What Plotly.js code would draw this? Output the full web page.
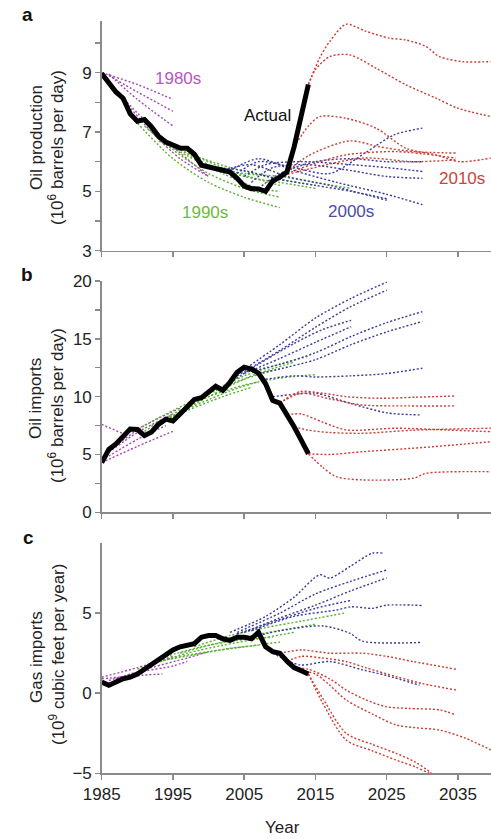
<!DOCTYPE html>
<html>
<head>
<meta charset="utf-8">
<script src="https://cdn.plot.ly/plotly-3.0.1.min.js"></script>
<style>html,body{margin:0;padding:0;background:#fff;}#chart{width:491px;height:839px;}</style>
</head>
<body>
<div id="chart"></div>
<script>
// ---------- DATA ----------
const years = [1985,1986,1987,1988,1989,1990,1991,1992,1993,1994,1995,1996,1997,1998,1999,2000,2001,2002,2003,2004,2005,2006,2007,2008,2009,2010,2011,2012,2013,2014];
const prodActual = [8.97,8.68,8.35,8.14,7.61,7.36,7.42,7.17,6.85,6.66,6.56,6.46,6.45,6.25,5.88,5.82,5.80,5.74,5.65,5.44,5.18,5.09,5.08,5.00,5.35,5.48,5.65,6.50,7.47,8.60];
const impActual = [4.29,5.44,5.91,6.59,7.20,7.16,6.63,6.94,7.62,8.05,7.89,8.50,9.16,9.76,9.91,10.42,10.90,10.55,11.24,12.10,12.55,12.39,12.04,11.11,9.67,9.44,8.45,7.39,6.24,5.06];
const gasActual = [0.7,0.5,0.7,0.9,1.0,1.2,1.5,1.8,2.1,2.4,2.7,2.9,3.0,3.1,3.5,3.6,3.6,3.4,3.3,3.5,3.5,3.4,3.8,2.9,2.6,2.5,2.0,1.6,1.4,1.2];

// Oil production projections (panel a)
const prod1980sX = [[1985,1990,1995],[1986,1990,1995],[1986,1990,1995],[1987,1991,1995,2000],[1988,1992,1996,2000]];
const prod1980sY = [[9.0,8.6,8.1],[8.95,8.1,7.2],[8.9,8.35,7.7],[8.4,7.4,6.5,5.5],[8.1,7.0,6.1,5.5]];
const prod1990sX = [[1990,1995,2000,2005,2010],[1991,1995,2000,2005,2010],[1993,1997,2002,2007,2010],[1994,1998,2003,2010],[1996,2000,2005,2010,2015],[1998,2003,2008,2015],[1999,2005,2010,2015,2020]];
const prod1990sY = [[7.3,6.1,5.3,4.8,4.45],[7.2,6.4,5.6,5.1,4.8],[6.7,6.2,5.6,5.1,5.0],[6.6,6.2,5.7,5.2],[6.4,5.9,5.5,5.3,5.1],[6.2,5.8,5.5,5.2],[5.9,5.6,5.5,5.3,5.1]];
const prod2000sX = [[2004,2007,2012,2017,2022,2026,2030],[2005,2008,2013,2020,2025,2030],[2006,2009,2014,2020,2025,2030],[2003,2007,2012,2018,2025,2030],[2002,2006,2011,2017,2025],[2001,2005,2010,2015,2020,2025],[2007,2010,2015,2020,2025,2030]];
const prod2000sY = [[5.6,6.0,5.8,5.6,6.3,6.9,7.13],[5.5,5.9,6.0,5.9,5.8,5.67],[5.3,5.8,5.9,5.7,5.5,5.44],[5.7,6.1,5.7,5.3,4.9,4.55],[5.7,5.9,5.5,5.2,4.7],[5.8,5.7,5.4,5.2,5.0,4.75],[5.1,5.6,6.0,6.1,6.0,6.0]];
const prod2010sX = [[2014,2015.6,2017,2019.3,2022,2025.4,2027.7,2030.5,2032.4,2035.7,2039.6],[2014,2015,2017,2019.8,2023.5,2027.7,2031.9,2035,2039.6],[2012,2014,2015.6,2019.3,2023.5,2027.7,2031.9,2035.2,2039.6],[2011,2014,2019.8,2024,2028.7,2034.7],[2011,2015,2019.3,2026.3,2034.7],[2010,2014,2021.6,2028.7,2034.7]];
const prod2010sY = [[8.6,9.5,10.05,10.63,10.4,10.16,10.1,9.88,9.54,9.37,9.37],[8.6,9.1,9.54,9.6,9.15,8.59,8.14,7.8,7.52],[6.5,7.2,7.52,7.46,7.13,6.45,6.23,6.0,6.12],[5.65,6.2,6.7,6.5,6.34,6.29],[5.6,5.95,6.23,6.34,6.12],[5.5,5.75,6.12,6.0,6.06]];

// Oil imports projections (panel b)
const imp1980sX = [[1985,1988],[1985,1990,1995],[1985,1990,1994],[1986,1990,1995],[1987,1991,1996]];
const imp1980sY = [[7.6,6.8],[4.3,5.7,7.0],[4.5,6.3,7.5],[5.2,6.9,8.5],[5.8,7.5,9.0]];
const imp1990sX = [[1990,1995,2000,2005,2010,2014],[1991,1995,2000,2005,2010,2015],[1993,1998,2003,2007],[1995,2000,2005,2010],[1997,2002,2007,2012],[1992,1997,2002,2006]];
const imp1990sY = [[7.2,8.8,10.3,11.8,12.8,13.5],[7.0,8.5,10.0,11.0,11.6,11.9],[7.8,9.2,10.5,11.3],[8.3,10.0,11.5,12.4],[9.3,10.8,12.0,13.0],[7.5,8.8,10.0,10.8]];
const imp2000sX = [[2003,2010,2015,2020,2025],[2004,2010,2015,2020,2025],[2002,2007,2012,2016,2020],[2005,2010,2015,2020],[2006,2010,2015,2020,2025,2030],[2007,2010,2015,2020,2025,2030],[2008,2012,2015,2020,2025,2030],[2009,2012,2015,2020,2025,2029.6]];
const imp2000sY = [[11.5,14.5,16.8,18.5,19.9],[11.8,14.0,16.0,17.8,19.2],[10.8,12.8,14.6,15.8,16.6],[12.0,13.3,14.7,16.05],[12.2,12.8,13.8,15.2,16.4,17.35],[12.0,12.4,13.2,14.5,15.6,16.5],[11.5,11.8,11.7,11.8,12.0,12.46],[10.0,10.2,10.3,9.4,8.6,8.42]];
const imp2010sX = [[2010,2012.8,2016,2019.3,2024,2029,2034.7],[2010,2013,2017,2021.6,2028,2034.7],[2011,2013,2016,2019.3,2026.3,2033.3,2039.6],[2012,2014,2017,2021.6,2028.7,2039.6],[2014,2017,2021.6,2030,2039.6],[2014,2016,2017.9,2021.6,2028.7,2030.5,2039.6]];
const imp2010sY = [[9.44,10.43,10.3,10.0,9.86,9.95,10.06],[9.44,10.3,9.8,9.28,9.2,9.2],[8.45,8.5,7.8,7.12,7.27,7.12,6.97],[7.39,7.1,6.9,6.83,7.1,7.27],[5.06,5.0,5.24,5.6,6.1],[5.06,3.9,3.08,2.8,2.94,3.37,3.51]];

// Gas imports projections (panel c)
const gas1980sX = [[1985,1990,1993.5],[1986,1990,1995,1997],[1987,1992,1997,2000],[1985,1990,1995]];
const gas1980sY = [[0.9,1.1,1.2],[0.8,1.3,1.7,2.0],[0.9,1.6,2.2,2.6],[1.0,1.6,2.3]];
const gas1990sX = [[1990,1995,2000,2005,2010],[1992,1997,2002,2007,2012],[1994,1999,2004,2009],[1996,2001,2006,2011,2015],[1998,2003,2008,2013,2019],[1993,1998,2003,2007]];
const gas1990sY = [[1.5,2.2,2.6,2.9,3.2],[1.8,2.5,3.0,3.4,3.8],[2.3,2.9,3.3,3.5],[2.5,3.1,3.6,4.0,4.3],[2.9,3.6,4.1,4.5,5.0],[2.0,2.4,2.8,3.0]];
const gas2000sX = [[2003,2008,2012,2015.6,2017,2019.8,2023,2024.4],[2004,2010,2015,2020,2025],[2005,2010,2015,2020,2025],[2006,2012,2018,2020,2023,2025,2030],[2004,2010,2015,2020],[2007,2010,2016,2019.8,2021.6,2029.8],[2009,2012.8,2017,2021.6,2025,2029.6]];
const gas2000sY = [[3.8,4.8,6.0,7.4,7.19,7.9,8.75,8.75],[3.8,5.0,6.2,7.0,7.7],[3.8,4.7,5.5,6.4,7.2],[3.9,4.8,5.2,5.4,5.3,5.5,5.48],[3.7,4.6,5.3,5.8],[3.6,3.9,4.2,3.75,3.25,3.17],[2.5,1.77,1.98,1.46,1.1,0.5]];
const gas2010sX = [[2010,2013,2017,2021.6,2025,2028.7,2034.7],[2011,2013,2016,2019.3,2022,2026.3,2030,2034.7],[2012,2014,2017,2019.3,2022,2024.9,2028,2032.4,2034.7],[2013,2015,2017,2019.3,2023,2026.3,2029,2032.4,2036,2039.6],[2014,2016,2019.3,2023,2026.3,2029,2031,2032],[2014,2016,2019.3,2023,2026.3,2029,2031,2033]];
const gas2010sY = [[2.5,2.7,2.5,2.5,2.3,1.98,1.5],[2.0,2.3,2.2,1.98,1.6,1.04,0.6,0.2],[1.6,1.5,0.9,0.2,-0.4,-0.84,-0.95,-1.04,-1.36],[1.4,1.2,0.5,-0.42,-1.3,-1.98,-2.15,-2.3,-2.8,-3.54],[1.2,-0.3,-2.5,-3.2,-3.75,-4.3,-4.9,-5.3],[1.2,-0.6,-2.92,-3.6,-4.17,-4.6,-5.0,-5.3]];

const xTicks = [1985,1995,2005,2015,2025,2035];

// ---------- STYLE ----------
const COL = {p:'#a545b5', g:'#55b030', b:'#3a3a9a', r:'#cc3b33'};
const TXT = {p:'#b656c0', g:'#6cbb3c', b:'#4b4ba8', r:'#c8453a'};
const FONT = 'Liberation Sans, Arial, Helvetica, sans-serif';

const traces = [];
function addGroup(xs, ys, color, xa, ya){
  for(let i=0;i<xs.length;i++){
    traces.push({x:xs[i], y:ys[i], mode:'lines', xaxis:xa, yaxis:ya, hoverinfo:'skip', showlegend:false,
      line:{color:color, width:1.4, dash:'2px,2px', shape:'spline', smoothing:0.8}});
  }
}
function addActual(ys, xa, ya){
  traces.push({x:years, y:ys, mode:'lines', xaxis:xa, yaxis:ya, hoverinfo:'skip', showlegend:false,
    line:{color:'#000', width:5, shape:'linear'}});
}

addGroup(prod1980sX, prod1980sY, COL.p, 'x', 'y');
addGroup(prod1990sX, prod1990sY, COL.g, 'x', 'y');
addGroup(prod2000sX, prod2000sY, COL.b, 'x', 'y');
addGroup(prod2010sX, prod2010sY, COL.r, 'x', 'y');
addActual(prodActual, 'x', 'y');

addGroup(imp1980sX, imp1980sY, COL.p, 'x2', 'y2');
addGroup(imp1990sX, imp1990sY, COL.g, 'x2', 'y2');
addGroup(imp2000sX, imp2000sY, COL.b, 'x2', 'y2');
addGroup(imp2010sX, imp2010sY, COL.r, 'x2', 'y2');
addActual(impActual, 'x2', 'y2');

addGroup(gas1980sX, gas1980sY, COL.p, 'x3', 'y3');
addGroup(gas1990sX, gas1990sY, COL.g, 'x3', 'y3');
addGroup(gas2000sX, gas2000sY, COL.b, 'x3', 'y3');
addGroup(gas2010sX, gas2010sY, COL.r, 'x3', 'y3');
addActual(gasActual, 'x3', 'y3');

const W = 491, H = 839;
const xDom = [101.7/W, 1];
const AX = '#8a8a8a';
const axisCommon = {showline:true, linecolor:AX, linewidth:1.5, ticks:'outside', ticklen:5, tickwidth:1.5, tickcolor:AX,
  showgrid:false, zeroline:false, tickfont:{family:FONT, size:17, color:'#222'}, fixedrange:true};

function xax(anchor, labels){
  return Object.assign({}, axisCommon, {domain:xDom, range:[1985, 2039.63], anchor:anchor, tickmode:'array', tickvals:xTicks,
    ticktext:xTicks.map(String), showticklabels:labels});
}
const yA = Object.assign({}, axisCommon, {domain:[1-250.7/H, 1-20.7/H], range:[3, 10.75], anchor:'x', tickmode:'linear', tick0:3, dtick:2,
  minor:{tick0:3, dtick:1, ticks:'outside', ticklen:5, tickwidth:1.5, tickcolor:AX, showgrid:false}});
const yB = Object.assign({}, axisCommon, {domain:[1-512.3/H, 1-281/H], range:[0, 20], anchor:'x2', tickmode:'linear', tick0:0, dtick:5,
  minor:{tick0:0, dtick:2.5, ticks:'outside', ticklen:5, tickwidth:1.5, tickcolor:AX, showgrid:false}});
const yC = Object.assign({}, axisCommon, {domain:[1-773.3/H, 1-542.7/H], range:[-5, 9.4], anchor:'x3', tickmode:'array', tickvals:[-5,0,5], ticktext:['\u22125','0','5']});

function ann(px, py, text, opts){
  return Object.assign({xref:'paper', yref:'paper', x:px/W, y:1-py/H, text:text, showarrow:false,
    xanchor:'center', yanchor:'middle', font:{family:FONT, size:17, color:'#111'}}, opts||{});
}
const TF = {family:FONT, size:17, color:'#222'};

const annotations = [
  ann(27, 15, '<b>a</b>', {font:{family:FONT, size:19, color:'#111'}}),
  ann(27, 274, '<b>b</b>', {font:{family:FONT, size:19, color:'#111'}}),
  ann(28, 537, '<b>c</b>', {font:{family:FONT, size:19, color:'#111'}}),
  ann(178, 78, '1980s', {font:{family:FONT, size:17, color:TXT.p}}),
  ann(267, 115, 'Actual', {font:{family:FONT, size:17, color:'#111'}}),
  ann(205, 212, '1990s', {font:{family:FONT, size:17, color:TXT.g}}),
  ann(351, 211, '2000s', {font:{family:FONT, size:17, color:TXT.b}}),
  ann(462, 178, '2010s', {font:{family:FONT, size:17, color:TXT.r}}),
  ann(282, 827, 'Year', {font:TF}),
  ann(36, 138, 'Oil production', {textangle:-90, font:TF}),
  ann(56, 148, '(10<sup>6</sup> barrels per day)', {textangle:-90, font:TF}),
  ann(36, 399, 'Oil imports', {textangle:-90, font:TF}),
  ann(56, 406, '(10<sup>6</sup> barrels per day)', {textangle:-90, font:TF}),
  ann(36, 657, 'Gas imports', {textangle:-90, font:TF}),
  ann(57, 655, '(10<sup>9</sup> cubic feet per year)', {textangle:-90, font:TF})
];

const layout = {
  width:W, height:H, margin:{l:0, r:0, t:0, b:0}, paper_bgcolor:'#fff', plot_bgcolor:'#fff',
  showlegend:false, font:{family:FONT},
  xaxis: xax('y', false), xaxis2: xax('y2', false), xaxis3: xax('y3', true),
  yaxis: yA, yaxis2: yB, yaxis3: yC,
  annotations: annotations
};

Plotly.newPlot('chart', traces, layout, {staticPlot:true, displayModeBar:false}).then(function(gd){
  // drop empty placeholder text nodes (unused axis titles)
  gd.querySelectorAll('text').forEach(function(t){ if(!t.textContent.trim()) t.remove(); });
});
</script>
</body>
</html>
